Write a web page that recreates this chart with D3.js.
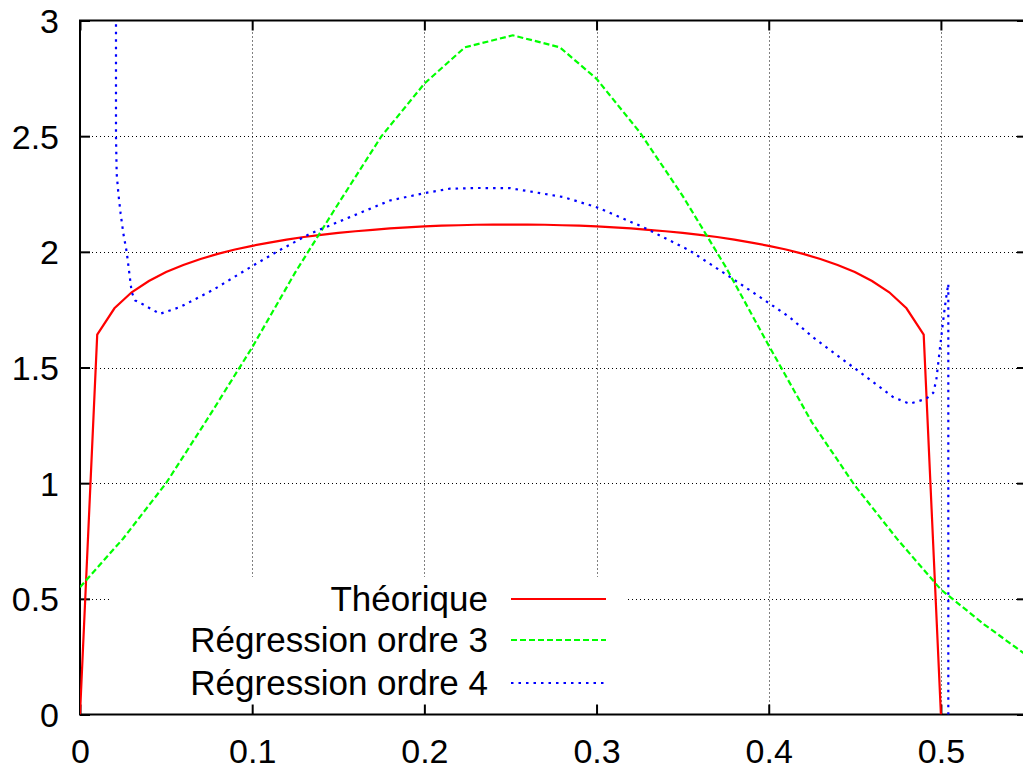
<!DOCTYPE html>
<html><head><meta charset="utf-8">
<script src="https://cdn.jsdelivr.net/npm/d3@7"></script>
<style>body{margin:0;background:#fff}svg{display:block}text{font-family:"Liberation Sans",Arial,sans-serif;fill:#000}</style>
</head><body>
<svg id="c" width="1023" height="769"></svg>
<script>
// Théorique
const redX = [0,0.01,0.02,0.03,0.04,0.05,0.06,0.07,0.08,0.09,0.10,0.11,0.12,0.13,0.14,0.15,0.16,0.17,0.18,0.19,0.20,0.21,0.22,0.23,0.24,0.25,0.26,0.27,0.28,0.29,0.30,0.31,0.32,0.33,0.34,0.35,0.36,0.37,0.38,0.39,0.40,0.41,0.42,0.43,0.44,0.45,0.46,0.47,0.48,0.49,0.50];
const redY = [0,1.642,1.756,1.825,1.874,1.913,1.943,1.969,1.991,2.010,2.026,2.040,2.053,2.064,2.073,2.082,2.089,2.095,2.101,2.106,2.110,2.113,2.115,2.117,2.118,2.118,2.118,2.117,2.115,2.113,2.110,2.106,2.101,2.095,2.089,2.082,2.073,2.064,2.053,2.040,2.026,2.010,1.991,1.969,1.943,1.913,1.874,1.825,1.756,1.642,0];
// Régression ordre 3
const greenX = [0,0.025,0.05,0.075,0.1,0.125,0.15,0.175,0.2,0.2235,0.2514,0.2787,0.3,0.325,0.35,0.375,0.4,0.425,0.45,0.475,0.5,0.525,0.55];
const greenY = [0.55,0.76,1.0,1.289,1.587,1.911,2.208,2.499,2.727,2.884,2.936,2.884,2.748,2.518,2.242,1.935,1.595,1.264,0.99,0.755,0.54,0.39,0.255];
// Régression ordre 4
const blueX = [0.0209,0.0209,0.0213,0.0223,0.0236,0.0252,0.0271,0.0287,0.030,0.032,0.0358,0.0464,0.058,0.0774,0.1006,0.1142,0.1335,0.1567,0.18,0.2003,0.2148,0.2322,0.25,0.2806,0.3,0.327,0.354,0.379,0.4006,0.412,0.4257,0.4489,0.4722,0.4819,0.4915,0.4955,0.4973,0.4993,0.5012,0.5028,0.5043,0.5043];
const blueY = [3.6,2.499,2.337,2.251,2.165,2.078,2.0,1.905,1.826,1.79,1.776,1.732,1.761,1.836,1.941,2.0,2.078,2.15,2.222,2.254,2.273,2.276,2.275,2.237,2.193,2.107,2.006,1.884,1.776,1.718,1.631,1.502,1.372,1.343,1.365,1.39,1.444,1.574,1.696,1.79,1.862,-0.5];
const xTicks = [0,0.1,0.2,0.3,0.4,0.5];
const yTicks = [0,0.5,1,1.5,2,2.5,3];
const legendLabels = ["Théorique","Régression ordre 3","Régression ordre 4"];

const svg = d3.select("#c");
const L=80, R=1027, T=20.5, B=714.5;
const x = d3.scaleLinear().domain([0,0.55]).range([L,R]);
const y = d3.scaleLinear().domain([0,3]).range([B,T]);
const FS = 34, LFS = 35;

svg.append("defs").append("clipPath").attr("id","pc").append("rect")
  .attr("x",L).attr("y",T).attr("width",R-L).attr("height",B-T);

// grid
const g = svg.append("g");
xTicks.forEach(t=>{ if(t>0) g.append("line").attr("x1",Math.round(x(t))+0.5).attr("x2",Math.round(x(t))+0.5).attr("y1",T).attr("y2",B)
  .attr("stroke","#000").attr("stroke-width",1).attr("stroke-dasharray","1,3");});
yTicks.forEach(t=>{ if(t>0 && t<3) g.append("line").attr("y1",Math.round(y(t))+0.5).attr("y2",Math.round(y(t))+0.5).attr("x1",L).attr("x2",R)
  .attr("stroke","#000").attr("stroke-width",1).attr("stroke-dasharray","1,3");});

// legend background box
svg.append("rect").attr("x",110).attr("y",577).attr("width",517).attr("height",B-577).attr("fill","#fff");

// frame
svg.append("rect").attr("x",L).attr("y",T).attr("width",R-L).attr("height",B-T)
  .attr("fill","none").attr("stroke","#000").attr("stroke-width",2);

// axes with inward ticks
const xb = d3.axisBottom(x).tickValues(xTicks).tickSize(-10).tickFormat(d3.format("~g"));
const xt = d3.axisTop(x).tickValues(xTicks).tickSize(-10).tickFormat("");
const yl = d3.axisLeft(y).tickValues(yTicks).tickSize(-10).tickFormat(d3.format("~g"));
const yr = d3.axisRight(y).tickValues(yTicks).tickSize(-10).tickFormat("");
function style(sel){
  sel.select(".domain").remove();
  sel.selectAll(".tick line").attr("stroke","#000").attr("stroke-width",2);
  sel.selectAll(".tick text").attr("font-size",FS).attr("font-family","Liberation Sans, Arial, sans-serif");
}
const gxb = svg.append("g").attr("transform",`translate(0,${B})`).call(xb); style(gxb);
gxb.selectAll(".tick text").attr("dy",null).attr("y",48);
const gxt = svg.append("g").attr("transform",`translate(0,${T})`).call(xt); style(gxt);
const gyl = svg.append("g").attr("transform",`translate(${L},0)`).call(yl); style(gyl);
gyl.selectAll(".tick text").attr("x",-21).attr("dy","0.35em");
const gyr = svg.append("g").attr("transform",`translate(${R},0)`).call(yr); style(gyr);

// curves
const line = d3.line().x(d=>x(d[0])).y(d=>y(d[1]));
const cg = svg.append("g").attr("clip-path","url(#pc)");
const series = [
  {xs:redX, ys:redY, color:"#ff0000", dash:null},
  {xs:greenX, ys:greenY, color:"#00ff00", dash:"6,3"},
  {xs:blueX, ys:blueY, color:"#0000ff", dash:"2.5,5"}
];
series.forEach(s=>{
  cg.append("path").datum(s.xs.map((v,i)=>[v,s.ys[i]]))
    .attr("d",line).attr("fill","none").attr("stroke",s.color).attr("stroke-width",2.2)
    .attr("stroke-linejoin","miter").attr("stroke-dasharray",s.dash);
});

// legend
const rowsY = [599,640,683];
legendLabels.forEach((lab,i)=>{
  svg.append("text").attr("x",488).attr("y",rowsY[i]+12).attr("text-anchor","end").attr("font-size",LFS).text(lab);
  svg.append("line").attr("x1",511).attr("x2",606).attr("y1",rowsY[i]).attr("y2",rowsY[i])
    .attr("stroke",series[i].color).attr("stroke-width",2.2).attr("stroke-dasharray",series[i].dash);
});
</script>
</body></html>
